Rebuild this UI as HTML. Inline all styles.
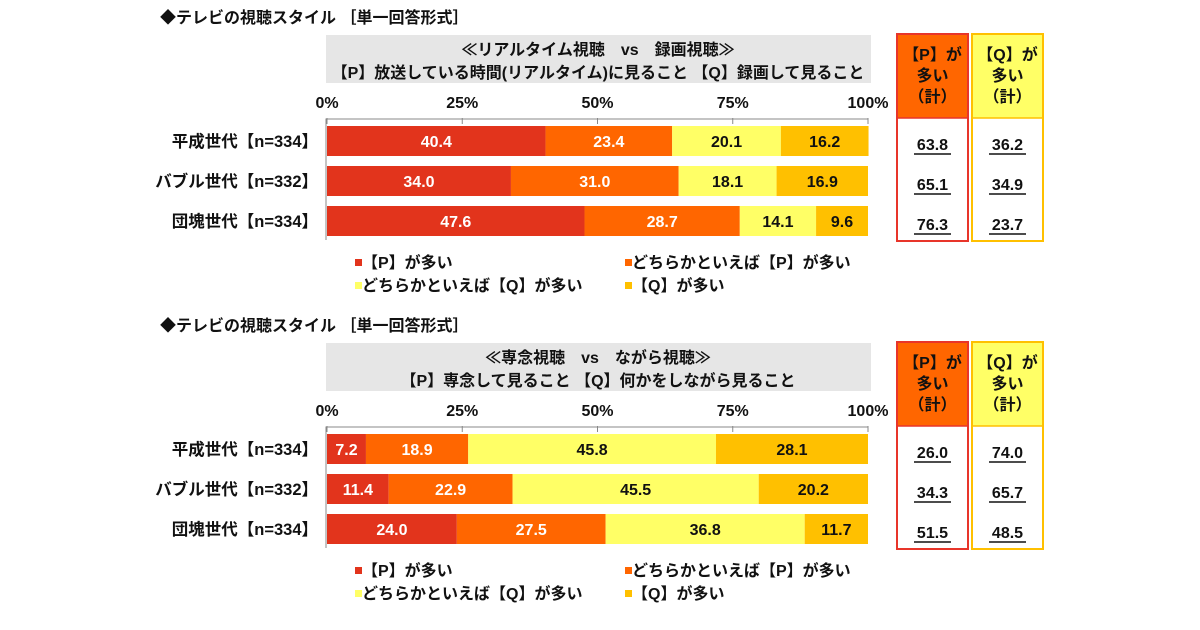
<!DOCTYPE html>
<html><head><meta charset="utf-8">
<style>
html,body{margin:0;padding:0;background:#fff;}
svg{display:block;font-family:"Liberation Sans","Noto Sans CJK JP",sans-serif;font-weight:bold;}
</style></head>
<body>
<svg id="chart" width="1200" height="630" viewBox="0 0 1200 630"></svg>
<script>
const categories = ["平成世代【n=334】","バブル世代【n=332】","団塊世代【n=334】"];
const seriesNames = ["【P】が多い","どちらかといえば【P】が多い","どちらかといえば【Q】が多い","【Q】が多い"];
const chart1P = [40.4, 34.0, 47.6];
const chart1PLean = [23.4, 31.0, 28.7];
const chart1QLean = [20.1, 18.1, 14.1];
const chart1Q = [16.2, 16.9, 9.6];
const chart1PTotal = ["63.8","65.1","76.3"];
const chart1QTotal = ["36.2","34.9","23.7"];
const chart2P = [7.2, 11.4, 24.0];
const chart2PLean = [18.9, 22.9, 27.5];
const chart2QLean = [45.8, 45.5, 36.8];
const chart2Q = [28.1, 20.2, 11.7];
const chart2PTotal = ["26.0","34.3","51.5"];
const chart2QTotal = ["74.0","65.7","48.5"];
const tickValues = [0, 25, 50, 75, 100];

const NS = "http://www.w3.org/2000/svg";
const svg = document.getElementById("chart");
const colors = ["#e2341c","#ff6600","#ffff66","#ffc000"];
function el(tag, attrs, parent){const e=document.createElementNS(NS,tag);for(const k in attrs)e.setAttribute(k,attrs[k]);(parent||svg).appendChild(e);return e;}
function txt(s, attrs, parent){const t=el("text",attrs,parent);t.textContent=s;return t;}
const X0 = 327, XW = 541;
function xScale(v){return X0 + v/100*XW;}

function drawChart(off, title1, title2, series, pTot, qTot, n){
  const g = el("g",{});
  
  
  const h = txt("◆テレビの視聴スタイル ［単一回答形式］",{x:160,y:off+23,"font-size":16,fill:"#111"},g);
  
  
  const box = el("rect",{x:326,y:off+35,width:545,height:48,fill:"#e6e6e6"},g);
  
  
  const t1 = txt(title1,{x:598,y:off+55,"font-size":16,"text-anchor":"middle",fill:"#111"},g);
  
  
  const t2 = txt(title2,{x:598,y:off+78,"font-size":16,"text-anchor":"middle",fill:"#111"},g);
  
  
  tickValues.forEach(v=>{
    const tl = txt(v+"%",{x:xScale(v),y:off+108,"font-size":16,"text-anchor":"middle",fill:"#111"},g);
    
    
    const tk = el("line",{x1:xScale(v),x2:xScale(v),y1:off+118,y2:off+124,stroke:"#888","stroke-width":1},g);
    
    
  });
  const ax = el("path",{d:`M${X0-1},${off+240}V${off+119}H${X0+XW}`,stroke:"#888",fill:"none","stroke-width":1},g);
  
  
  categories.forEach((c,i)=>{
    const y = off+126+i*40;
    const cl = txt(c,{x:318,y:y+21,"font-size":16.5,"text-anchor":"end",fill:"#111"},g);
    
    
    let acc = 0;
    series.forEach((s,j)=>{
      const v = s[i];
      const r = el("rect",{x:xScale(acc),y:y,width:xScale(acc+v)-xScale(acc),height:30,fill:colors[j]},g);
      
      
      const vl = txt(v.toFixed(1),{x:(xScale(acc)+xScale(acc+v))/2,y:y+21,"font-size":16,"text-anchor":"middle",fill:j<2?"#fff":"#111"},g);
      
      
      acc += v;
    });
  });
  const lp = [[355,off+268],[625,off+268],[355,off+291],[625,off+291]];
  seriesNames.forEach((nm,j)=>{
    const lr = el("rect",{x:lp[j][0],y:lp[j][1]-9,width:7,height:7,fill:colors[j]},g);
    
    
    const lt = txt(nm,{x:lp[j][0]+7,y:lp[j][1],"font-size":16,fill:"#111"},g);
    
    
  });
  [[897,"#ff6600","#e8352a","【P】が",pTot],[972,"#ffff66","#ffc000","【Q】が",qTot]].forEach((b,k)=>{
    const hb = el("rect",{x:b[0],y:off+34,width:71,height:84,fill:b[1]},g);
    
    
    const ob = el("rect",{x:b[0],y:off+34,width:71,height:207,fill:"none",stroke:b[2],"stroke-width":2},g);
    
    
    el("line",{x1:b[0],x2:b[0]+71,y1:off+118,y2:off+118,stroke:b[2],"stroke-width":1.5},g);
    [b[3],"多い","（計）"].forEach((s,m)=>{
      const hl = txt(s,{x:b[0]+35.5,y:off+60+m*21,"font-size":16,"text-anchor":"middle",fill:"#111"},g);
      
      
    });
    b[4].forEach((v,i)=>{
      const tv = txt(v,{x:b[0]+35.5,y:off+150+i*40,"font-size":16,"text-anchor":"middle",fill:"#111"},g);
      
      
      el("line",{x1:b[0]+17,x2:b[0]+54,y1:off+154+i*40,y2:off+154+i*40,stroke:"#111","stroke-width":1.5},g);
    });
  });
}
drawChart(0,"≪リアルタイム視聴　vs　録画視聴≫","【P】放送している時間(リアルタイム)に見ること 【Q】録画して見ること",
  [chart1P,chart1PLean,chart1QLean,chart1Q],chart1PTotal,chart1QTotal,1);
drawChart(308,"≪専念視聴　vs　ながら視聴≫","【P】専念して見ること 【Q】何かをしながら見ること",
  [chart2P,chart2PLean,chart2QLean,chart2Q],chart2PTotal,chart2QTotal,2);
</script>
</body></html>
